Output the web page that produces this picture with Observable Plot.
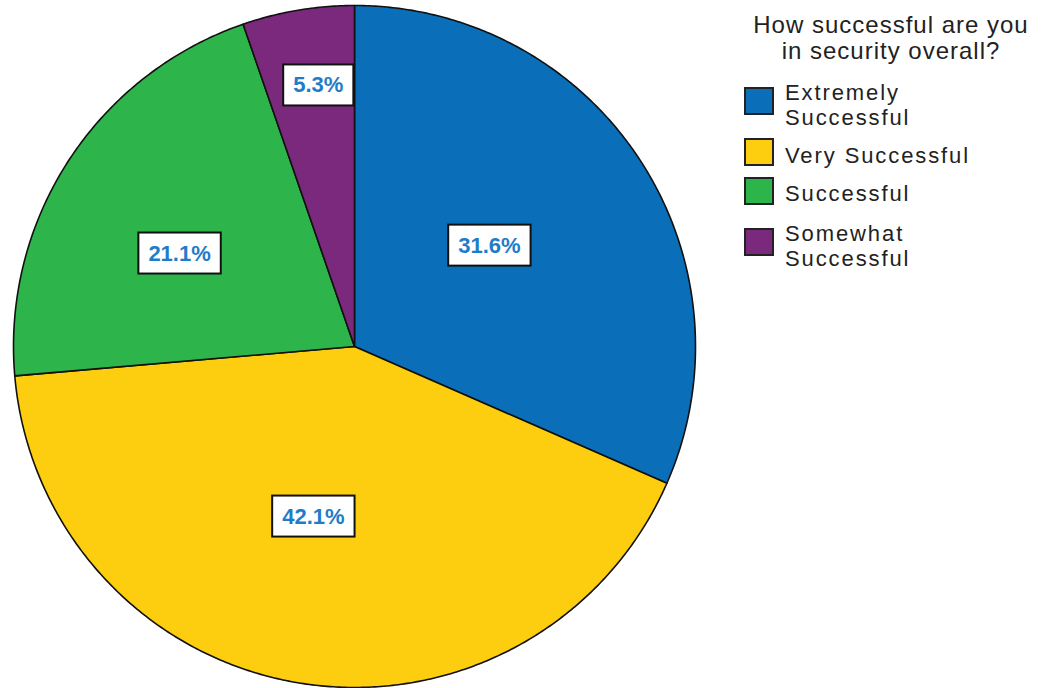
<!DOCTYPE html>
<html>
<head>
<meta charset="utf-8">
<script src="https://cdn.jsdelivr.net/npm/d3@7"></script>
<script src="https://cdn.jsdelivr.net/npm/@observablehq/plot@0.6"></script>
<style>
  html, body { margin: 0; padding: 0; background: #fff; }
  #wrap { position: relative; width: 1042px; height: 688px; overflow: hidden; font-family: "Liberation Sans", Arial, sans-serif; }
  #chart { position: absolute; left: 0; top: 0; }
  .lg-title { position: absolute; left: 741px; top: 12px; width: 300px; text-align: center; font-size: 24px; line-height: 26px; letter-spacing: 1px; color: #222; }
  .lg-sw { position: absolute; left: 744px; width: 26px; height: 24px; border: 2px solid #222; }
  .lg-tx { position: absolute; left: 785px; font-size: 22px; line-height: 25px; letter-spacing: 1.9px; color: #222; white-space: nowrap; }
</style>
</head>
<body>
<div id="wrap"><div id="chart"></div></div>
<script>
// ---- data ----
const categories = ["Extremely Successful", "Very Successful", "Successful", "Somewhat Successful"];
const legendLines = [["Extremely", "Successful"], ["Very Successful"], ["Successful"], ["Somewhat", "Successful"]];
const percents = [31.6, 42.1, 21.1, 5.3];
const percentLabels = ["31.6%", "42.1%", "21.1%", "5.3%"];
const legendTitle = ["How successful are you", "in security overall?"];

// ---- style / layout ----
const colors = ["#0a6eb9", "#fdcd10", "#2db44b", "#7a297d"];
const labelAngleDeg = [53.2, 193.6, 298.0, 352.1];
const labelRadius = [0.494, 0.513, 0.581, 0.773];
const swatchTops = [87, 138, 177, 228];
const textTops = [80, 143, 181, 221];

// angles (clockwise from 12 o'clock)
const total = d3.sum(percents);
let acc = 0;
const slices = categories.map((c, i) => {
  const a0 = acc / total * 2 * Math.PI;
  acc += percents[i];
  const a1 = acc / total * 2 * Math.PI;
  return {cat: c, a0, a1, i};
});

// slice outlines (geometry of the arc)
const pts = [];
for (const s of slices) {
  pts.push({cat: s.cat, x: 0, y: 0});
  const n = Math.max(2, Math.ceil((s.a1 - s.a0) / (Math.PI / 360)));
  for (let k = 0; k <= n; k++) {
    const a = s.a0 + (s.a1 - s.a0) * k / n;
    pts.push({cat: s.cat, x: Math.sin(a), y: Math.cos(a)});
  }
}

const labels = slices.map(s => {
  const a = labelAngleDeg[s.i] * Math.PI / 180;
  return {text: percentLabels[s.i], x: labelRadius[s.i] * Math.sin(a), y: labelRadius[s.i] * Math.cos(a)};
});

const plot = Plot.plot({
  width: 1042,
  height: 688,
  marginLeft: 13,
  marginRight: 347,
  marginTop: 5,
  marginBottom: 1,
  x: {domain: [-1, 1], axis: null},
  y: {domain: [-1, 1], axis: null},
  color: {domain: categories, range: colors},
  style: {background: "transparent", overflow: "visible"},
  marks: [
    Plot.line(pts, {x: "x", y: "y", z: "cat", fill: "cat", stroke: "#111", strokeWidth: 1.6, curve: "linear-closed", strokeLinejoin: "round"}),
    Plot.text(labels, {x: "x", y: "y", text: "text", fill: "#1f7cc8", fontWeight: "bold", fontSize: 22, fontFamily: "Liberation Sans, Arial, sans-serif", className: "pct-label"})
  ]
});
document.getElementById("chart").appendChild(plot);

// white boxes with black border behind the percentage labels
d3.select(plot).selectAll("g.pct-label text").each(function() {
  const bb = this.getBBox();
  const padX = 10, padY = 8;
  const r = document.createElementNS("http://www.w3.org/2000/svg", "rect");
  r.setAttribute("x", bb.x - padX);
  r.setAttribute("y", bb.y - padY);
  r.setAttribute("width", bb.width + 2 * padX);
  r.setAttribute("height", bb.height + 2 * padY);
  r.setAttribute("fill", "#fff");
  r.setAttribute("stroke", "#111");
  r.setAttribute("stroke-width", "2");
  const t = this.getAttribute("transform");
  if (t) r.setAttribute("transform", t);
  this.parentNode.insertBefore(r, this);
});

// legend
const wrap = document.getElementById("wrap");
const title = document.createElement("div");
title.className = "lg-title";
title.innerHTML = legendTitle.join("<br>");
wrap.appendChild(title);
categories.forEach((c, i) => {
  const sw = document.createElement("div");
  sw.className = "lg-sw";
  sw.style.top = swatchTops[i] + "px";
  sw.style.background = colors[i];
  wrap.appendChild(sw);
  const tx = document.createElement("div");
  tx.className = "lg-tx";
  tx.style.top = textTops[i] + "px";
  tx.innerHTML = legendLines[i].join("<br>");
  wrap.appendChild(tx);
});
</script>
</body>
</html>
